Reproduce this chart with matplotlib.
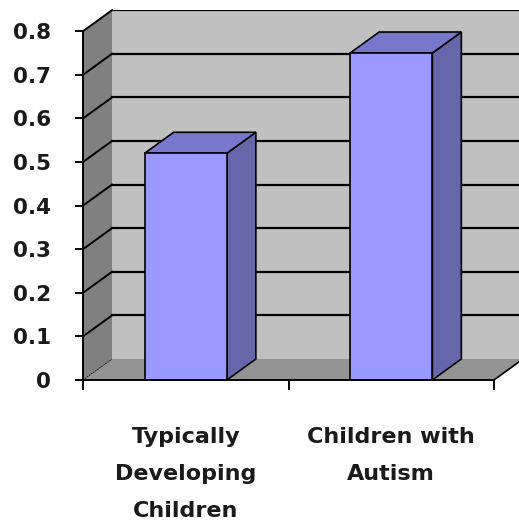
import matplotlib
matplotlib.use("Agg")
import matplotlib.pyplot as plt
from matplotlib.patches import Polygon

# data
categories = ["Typically\nDeveloping\nChildren", "Children with\nAutism"]
values = [0.52, 0.75]
yticks = [0, 0.1, 0.2, 0.3, 0.4, 0.5, 0.6, 0.7, 0.8]

W, H = 519, 524
fig = plt.figure(figsize=(W / 100, H / 100), dpi=100)
fig.patch.set_facecolor("white")

# axes: front plane of the 3d box, spans to the right edge of the figure
left_px, bottom_px, top_px = 83, 380, 10
ax = fig.add_axes([left_px / W, (H - bottom_px) / H,
                   (W - left_px) / W, (bottom_px - top_px) / H])
px_x = 205.5            # pixels per category unit
px_y = 436.0            # pixels per value unit
ax.set_xlim(0, (W - left_px) / px_x)
ax.set_ylim(0, (bottom_px - top_px) / px_y)

dx = 29 / px_x          # depth offset in data units
dy = 21 / px_y
ymax = 0.8
ncat = len(categories)

# walls and floor
side = Polygon([(0, 0), (dx, dy), (dx, ymax + dy), (0, ymax)],
               closed=True, fc="#808080", ec="none", zorder=1, clip_on=False)
back = Polygon([(dx, dy), (ncat + dx, dy), (ncat + dx, ymax + dy), (dx, ymax + dy)],
               closed=True, fc="#c0c0c0", ec="none", zorder=1, clip_on=False)
floor = Polygon([(0, 0), (ncat, 0), (ncat + dx, dy), (dx, dy)],
                closed=True, fc="#939393", ec="none", zorder=1, clip_on=False)
for p in (side, back, floor):
    ax.add_patch(p)

# gridlines on side and back walls
for v in yticks[1:]:
    ax.plot([0, dx], [v, v + dy], color="black", lw=1.4, zorder=2, clip_on=False)
    ax.plot([dx, ncat + dx], [v + dy, v + dy], color="black", lw=1.6, zorder=2,
            clip_on=True)
ax.plot([0, dx], [0, dy], color="black", lw=0.6, ls=(0, (2, 1)), zorder=2)
ax.plot([ncat, ncat + dx], [0, dy], color="black", lw=1.2, zorder=2, clip_on=False)

# 3d bars
bw = 0.4
for i, v in enumerate(values):
    c = i + 0.5
    x0, x1 = c - bw / 2, c + bw / 2
    front = Polygon([(x0, 0), (x1, 0), (x1, v), (x0, v)], closed=True,
                    fc="#9999ff", ec="black", lw=1.2, zorder=4)
    top = Polygon([(x0, v), (x1, v), (x1 + dx, v + dy), (x0 + dx, v + dy)],
                  closed=True, fc="#7777cc", ec="black", lw=1.2, zorder=3)
    right = Polygon([(x1, 0), (x1 + dx, dy), (x1 + dx, v + dy), (x1, v)],
                    closed=True, fc="#6666aa", ec="black", lw=1.2, zorder=3)
    for p in (right, top, front):
        ax.add_patch(p)

# axis lines
for s in ("top", "right"):
    ax.spines[s].set_visible(False)
ax.spines["left"].set_bounds(0, ymax)
ax.spines["bottom"].set_bounds(0, ncat)
ax.spines["left"].set_linewidth(1.4)
ax.spines["bottom"].set_linewidth(1.4)
ax.spines["left"].set_zorder(5)
ax.spines["bottom"].set_zorder(5)
ax.patch.set_visible(False)

ax.set_yticks(yticks)
ax.set_yticklabels([f"{t:g}" for t in yticks])
ax.tick_params(axis="y", direction="out", length=6, width=1.4, pad=17,
               labelsize=15.5, labelcolor="#1a1a1a")
ax.set_xticks(range(ncat + 1))
ax.set_xticklabels([])
ax.tick_params(axis="x", which="major", direction="out", length=7, width=1.4)
ax.set_xticks([i + 0.5 for i in range(ncat)], minor=True)
ax.set_xticklabels(categories, minor=True, linespacing=2.05)
ax.tick_params(axis="x", which="minor", length=0, pad=34, labelsize=16,
               labelcolor="#1a1a1a")
for lab in ax.get_yticklabels() + ax.get_xticklabels(minor=True):
    lab.set_fontweight("bold")

fig.savefig("out.png", dpi=100)
